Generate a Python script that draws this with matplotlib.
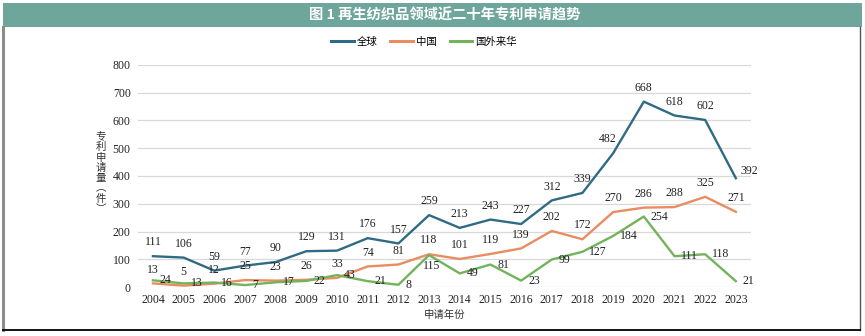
import matplotlib
matplotlib.use("Agg")
import matplotlib.pyplot as plt
from matplotlib.patches import Rectangle
from matplotlib.lines import Line2D

years = [str(y) for y in range(2004, 2024)]
global_apps = [111, 106, 59, 77, 90, 129, 131, 176, 157, 259, 213, 243, 227, 312, 339, 482, 668, 618, 602, 392]
china_apps = [13, 5, 12, 25, 23, 26, 33, 74, 81, 118, 101, 119, 139, 202, 172, 270, 286, 288, 325, 271]
foreign_apps = [24, 13, 16, 7, 17, 22, 43, 21, 8, 115, 49, 81, 23, 99, 127, 184, 254, 111, 118, 21]
series_names = ["全球", "中国", "国外来华"]
y_title = "专利申请量︵件︶"

CJK = ["Noto Sans CJK SC", "DejaVu Sans"]
SERIF = "Liberation Serif"
c_global = "#2f6b84"
c_china = "#e98c60"
c_foreign = "#72b35c"

fig = plt.figure(figsize=(8.65, 3.36), dpi=100)
W, H = 865, 336

# header bar and frame
fig.patches.append(Rectangle((3 / W, 1 - 27 / H), 859 / W, 24 / H, transform=fig.transFigure,
                             facecolor="#6fa69c", edgecolor="none"))
fig.lines.append(Line2D([3.5 / W, 3.5 / W], [1 - 27 / H, 1 - 330 / H], transform=fig.transFigure,
                        color="#8c8c8c", lw=2.2))
fig.lines.append(Line2D([859.5 / W, 859.5 / W], [1 - 27 / H, 1 - 330 / H], transform=fig.transFigure,
                        color="#555555", lw=1.0))
fig.lines.append(Line2D([3 / W, 860 / W], [1 - 330 / H, 1 - 330 / H], transform=fig.transFigure,
                        color="#111111", lw=1.4))
fig.text(445 / W, 1 - 15 / H, "图 1 再生纺织品领域近二十年专利申请趋势", color="white",
         fontsize=10.3, fontweight="bold", family=CJK, ha="center", va="center")

ax = fig.add_axes([137.6 / W, 1 - 287 / H, 613.6 / W, 222 / H])
x = list(range(len(years)))
ax.plot(x, global_apps, color=c_global, lw=1.7, label=series_names[0], zorder=3)
ax.plot(x, china_apps, color=c_china, lw=1.7, label=series_names[1], zorder=3)
ax.plot(x, foreign_apps, color=c_foreign, lw=1.7, label=series_names[2], zorder=3)

ax.set_xlim(-0.5, len(years) - 0.5)
ax.set_ylim(0, 800)
ax.set_yticks(range(0, 801, 100))
ax.set_xticks(x)
ax.set_xticklabels(years)
ax.grid(axis="y", color="#d9d9d9", lw=0.9)
ax.set_axisbelow(True)
for s in ax.spines.values():
    s.set_visible(False)
ax.tick_params(length=0, labelsize=8.5, pad=5, labelcolor="#222222")
for lab in ax.get_xticklabels() + ax.get_yticklabels():
    lab.set_family(SERIF)

lab_kw = dict(textcoords="offset points", fontsize=8.5, family=SERIF, color="#222222", zorder=4)
for i, v in enumerate(global_apps):
    off, ha = (0, 10), "center"
    if i == len(global_apps) - 1:
        off, ha = (3, 5), "left"
    elif i == 15:
        off = (-4, 10)
    ax.annotate(str(v), (i, v), xytext=off, ha=ha, va="center", **lab_kw)
for i, v in enumerate(china_apps):
    ax.annotate(str(v), (i, v), xytext=(0, 10), ha="center", va="center", **lab_kw)
for i, v in enumerate(foreign_apps):
    if i == 9:
        ax.annotate(str(v), (i, v), xytext=(2, -8), ha="center", va="center", **lab_kw)
    else:
        ax.annotate(str(v), (i, v), xytext=(5, 0), ha="left", va="center", **lab_kw)

ax.set_xlabel("申请年份", family=CJK, fontsize=7.5, labelpad=3, color="#333333")

# vertical axis title, one glyph per row
for k, ch in enumerate(y_title):
    fig.text(101 / W, 1 - (137 + k * 10.3) / H, ch, family=CJK, fontsize=7.5,
             ha="center", va="center", color="#333333")

leg = ax.legend(loc="center", bbox_to_anchor=(424 / W, 1 - 42 / H), bbox_transform=fig.transFigure,
                ncol=3, frameon=False, prop={"family": CJK, "size": 7.5}, handlelength=2.2,
                handletextpad=0.3, columnspacing=1.2)
for h in leg.get_lines():
    h.set_linewidth(2.2)

fig.savefig("out.png", dpi=100)
